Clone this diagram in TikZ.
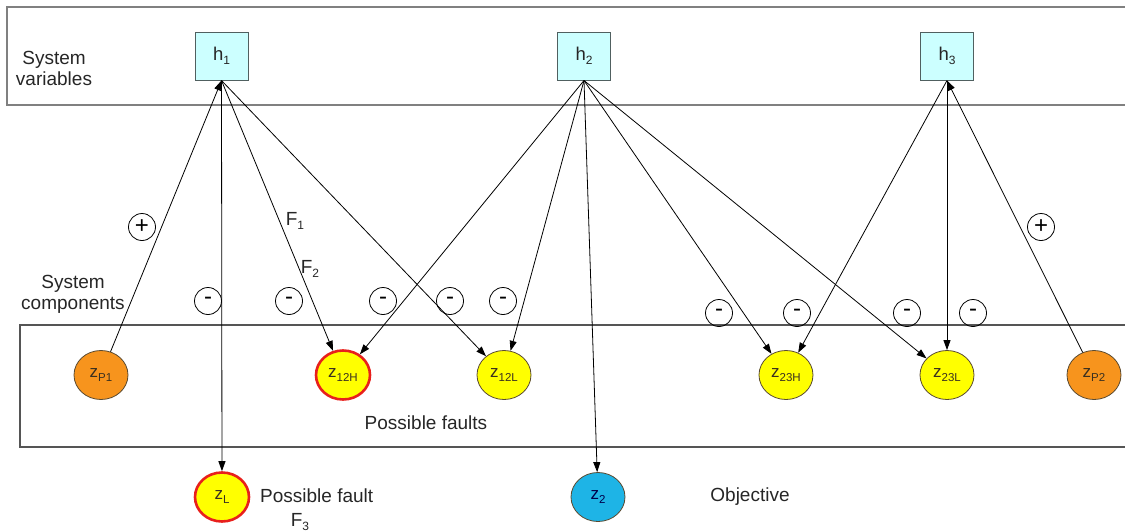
\documentclass[tikz,border=0pt]{standalone}
\usepackage{fontspec}
\setmainfont{Liberation Sans}
\usetikzlibrary{arrows.meta,shapes.geometric}

\definecolor{txt}{HTML}{262626}
\definecolor{comptxt}{HTML}{3A3020}
\definecolor{varfill}{HTML}{CCFFFF}
\definecolor{boxline}{HTML}{506060}
\definecolor{compline}{HTML}{5A4A30}
\definecolor{orange1}{HTML}{F7941D}
\definecolor{yellow1}{HTML}{FFFF00}
\definecolor{red1}{HTML}{E8201C}
\definecolor{blue1}{HTML}{1EB4E6}
\definecolor{bandtop}{HTML}{808080}
\definecolor{bandlow}{HTML}{555555}

% lowered subscript in the label font
\newcommand{\lo}[1]{\raisebox{-0.4ex}{\fontsize{12}{12}\selectfont #1}}
\newcommand{\los}[1]{\raisebox{-0.4ex}{\fontsize{11.5}{11.5}\selectfont #1}}

\tikzset{
  varbox/.style={draw=boxline, fill=varfill, line width=1pt,
    minimum width=53pt, minimum height=48pt, inner sep=0pt,
    font=\fontsize{18.5}{18.5}\selectfont, text=txt},
  comp/.style={ellipse, draw=compline, line width=0.8pt,
    minimum width=54pt, minimum height=49pt, inner sep=0pt,
    font=\fontsize{17}{17}\selectfont, text=comptxt},
  pump/.style={comp, fill=orange1},
  valve/.style={comp, fill=yellow1},
  fault/.style={comp, fill=yellow1, draw=red1, line width=2.6pt},
  goal/.style={comp, fill=blue1, text=black!70!blue},
  sign/.style={circle, draw=black, line width=0.8pt, minimum size=27pt,
    inner sep=0pt, font=\fontsize{24}{24}\selectfont},
  lbl/.style={font=\fontsize{19}{21}\selectfont, text=txt, align=center, inner sep=0pt},
  arr/.style={-{Triangle[length=10pt,width=7pt]}, line width=0.8pt, black},
}

\begin{document}
\begin{tikzpicture}[x=1pt,y=-1pt]
\clip (0,0) rectangle (1125,531);

% layer bands
\draw[bandtop, line width=2pt] (7,7) rectangle (1140,105);
\draw[bandlow, line width=1.2pt] (20,325) rectangle (1140,447);

% band captions
\node[lbl] (capvar) at (54,68) {System\\variables};
\node[lbl] (capcomp) at (73,294) {System\\components};
\node[lbl] (capfaults) at (426,423) {Possible faults};
\node[lbl, anchor=west] (capfault) at (260,496) {Possible fault};
\node[lbl] (capF3) at (300,522) {F\lo{3}};
\node[lbl] (capobj) at (750,497) {Objective};

% system variables
\node[varbox] (h1) at (221.5,56) {h\lo{1}};
\node[varbox] (h2) at (584,56) {h\lo{2}};
\node[varbox] (h3) at (947,56) {h\lo{3}};

% components
\node[pump]  (zP1)  at (101,375) {z\los{P1}};
\node[fault] (z12H) at (343,375) {z\los{12H}};
\node[valve] (z12L) at (504,375) {z\los{12L}};
\node[valve] (z23H) at (786,375) {z\los{23H}};
\node[valve] (z23L) at (947,375) {z\los{23L}};
\node[pump]  (zP2)  at (1094,375) {z\los{P2}};
\node[fault] (zL)   at (222,497) {z\los{L}};
\node[goal]  (z2)   at (598,497) {z\los{2}};

% influence connectors
\draw[arr] (zP1) -- (h1.south);
\draw[arr] (h1.south) -- (zL);
\draw[arr] (h1.south) -- (z12H);
\draw[arr] (h1.south) -- (z12L);
\draw[arr] (h2.south) -- (z12H);
\draw[arr] (h2.south) -- (z12L);
\draw[arr] (h2.south) -- (z2);
\draw[arr] (h2.south) -- (z23H);
\draw[arr] (h2.south) -- (z23L);
\draw[arr] (h3.south) -- (z23H);
\draw[arr] (h3.south) -- (z23L);
\draw[arr] (zP2) -- (h3.south);

% fault labels
\node[lbl] (F1) at (295,221) {F\lo{1}};
\node[lbl] (F2) at (310,269) {F\lo{2}};

% signs
\node[sign] (p1) at (142,227) {+};
\node[sign] (p2) at (1041,227) {+};
\node[sign] (m1) at (208,301) {-};
\node[sign] (m2) at (289,301) {-};
\node[sign] (m3) at (383,301) {-};
\node[sign] (m4) at (450,301) {-};
\node[sign] (m5) at (503,301) {-};
\node[sign] (m6) at (719,313) {-};
\node[sign] (m7) at (797,313) {-};
\node[sign] (m8) at (907,313) {-};
\node[sign] (m9) at (973,313) {-};
\end{tikzpicture}
\end{document}
